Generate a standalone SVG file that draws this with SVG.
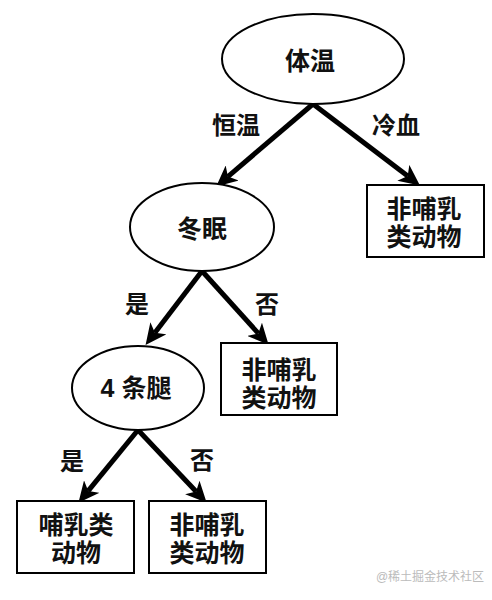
<svg xmlns="http://www.w3.org/2000/svg" width="492" height="600" viewBox="0 0 492 600">
<style>
.node ellipse,.node rect{fill:#fff;stroke:#000;stroke-width:2}
text{font-family:"Liberation Sans","Noto Sans CJK SC",sans-serif;font-weight:600;fill:#111;text-anchor:middle;dominant-baseline:central}
.n{font-size:25px}
.lbl{font-size:24px}
.edge line{stroke:#000;stroke-width:5;marker-end:url(#ah)}
.wm{font-size:12px;fill:#bbb;font-weight:400}
</style>
<defs>
<marker id="ah" markerUnits="userSpaceOnUse" markerWidth="22" markerHeight="20" refX="5" refY="9" orient="auto" viewBox="0 0 20 18">
<path d="M0,0 L19,9 L0,18 L5,9 z" fill="#000"/>
</marker>
</defs>
<rect width="492" height="600" fill="#fff"/>
<g id="connectors" class="edge">
<line x1="313" y1="104" x2="227.9" y2="176.6"/>
<line x1="313" y1="104" x2="407.7" y2="176.1"/>
<line x1="202" y1="271" x2="154.9" y2="332.7"/>
<line x1="202" y1="271" x2="258.3" y2="333.4"/>
<line x1="138" y1="430" x2="88.2" y2="490.9"/>
<line x1="138" y1="430" x2="196.1" y2="491.5"/>
</g>
<g id="labels">
<text class="lbl" x="236" y="125">恒温</text>
<text class="lbl" x="396" y="125">冷血</text>
<text class="lbl" x="137" y="304">是</text>
<text class="lbl" x="267" y="304">否</text>
<text class="lbl" x="72" y="461">是</text>
<text class="lbl" x="202" y="460">否</text>
</g>
<g id="n_tiwen" class="node">
<ellipse cx="313" cy="59" rx="91" ry="45"/>
<text class="n" x="310" y="61">体温</text>
</g>
<g id="n_feiburu1" class="node">
<rect x="367" y="185" width="117" height="72"/>
<text class="n" x="424" y="209">非哺乳<tspan x="424" dy="28">类动物</tspan></text>
</g>
<g id="n_dongmian" class="node">
<ellipse cx="202" cy="227" rx="72" ry="44"/>
<text class="n" x="202" y="229">冬眠</text>
</g>
<g id="n_feiburu2" class="node">
<rect x="221" y="343" width="116" height="72"/>
<text class="n" x="279" y="370">非哺乳<tspan x="279" dy="28">类动物</tspan></text>
</g>
<g id="n_tiaotui" class="node">
<ellipse cx="138" cy="388" rx="66" ry="42"/>
<text class="n" x="136" y="388">4 条腿</text>
</g>
<g id="n_buru" class="node">
<rect x="17" y="501" width="117" height="72"/>
<text class="n" x="76" y="525">哺乳类<tspan x="76" dy="28">动物</tspan></text>
</g>
<g id="n_feiburu3" class="node">
<rect x="149" y="501" width="117" height="72"/>
<text class="n" x="207" y="525">非哺乳<tspan x="207" dy="28">类动物</tspan></text>
</g>
<text class="wm" x="430" y="577">@稀土掘金技术社区</text>
</svg>
